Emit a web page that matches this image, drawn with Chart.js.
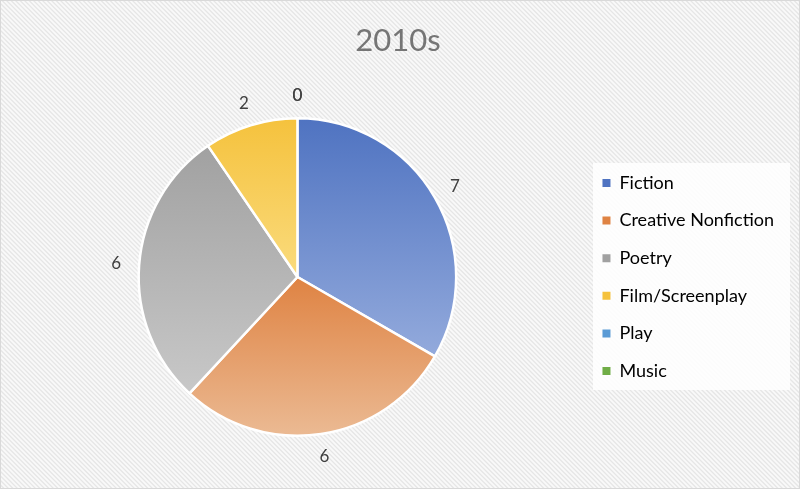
<!DOCTYPE html>
<html>
<head>
<meta charset="utf-8">
<script src="https://cdn.jsdelivr.net/npm/chart.js@4.4.1/dist/chart.umd.min.js"></script>
<style>
  html, body { margin: 0; padding: 0; background: #fff; }
  #wrap { width: 800px; height: 489px; position: relative; }
</style>
</head>
<body>
<div id="wrap"><canvas id="pie"></canvas></div>
<script>
// data
const genres = ["Fiction", "Creative Nonfiction", "Poetry", "Film/Screenplay", "Play", "Music"];
const counts = [7, 6, 6, 2, 0, 0];
const chartTitle = "2010s";

// [top, bottom] of each slice gradient
const sliceColors = [
  ["#4f73c1", "#93aadc"],
  ["#df8343", "#ebba93"],
  ["#a1a1a1", "#c8c8c8"],
  ["#f5c23d", "#fadb7d"],
  ["#5b9bd5", "#9dc3e6"],
  ["#70ad47", "#a9d18e"],
];

// hatched background + white legend panel
const background = {
  id: "background",
  beforeDraw(chart) {
    const { ctx, width, height } = chart;
    ctx.save();
    ctx.fillStyle = "#f9f9f9";
    ctx.fillRect(0, 0, width, height);
    ctx.strokeStyle = "#e6e6e6";
    ctx.lineWidth = 1.3;
    ctx.beginPath();
    for (let k = -height; k < width; k += 4.5) {
      ctx.moveTo(k, 0);
      ctx.lineTo(k + height, height);
    }
    ctx.stroke();
    ctx.strokeStyle = "#d9d9d9";
    ctx.lineWidth = 1;
    ctx.strokeRect(0.5, 0.5, width - 1, height - 1);

    const lg = chart.legend;
    if (lg && lg.legendHitBoxes && lg.legendHitBoxes.length) {
      const boxes = lg.legendHitBoxes;
      const last = boxes[boxes.length - 1];
      const top = boxes[0].top - 11;
      const bot = last.top + last.height + 10;
      ctx.fillStyle = "rgba(255,255,255,0.85)";
      ctx.fillRect(593, top, 197, bot - top);
    }
    ctx.restore();
  },
};

// vertical gradient per slice, sized to the slice's own bounds
const sliceGradients = {
  id: "sliceGradients",
  beforeDatasetsDraw(chart) {
    const { ctx } = chart;
    const meta = chart.getDatasetMeta(0);
    meta.data.forEach((arc, i) => {
      const { x, y, startAngle, endAngle, outerRadius } = arc.getProps(
        ["x", "y", "startAngle", "endAngle", "outerRadius"], true);
      if (endAngle - startAngle <= 0) return;
      let ys = [y, y + outerRadius * Math.sin(startAngle), y + outerRadius * Math.sin(endAngle)];
      for (let a = startAngle; a <= endAngle; a += 0.02) ys.push(y + outerRadius * Math.sin(a));
      const top = Math.min(...ys), bot = Math.max(...ys);
      const g = ctx.createLinearGradient(0, top, 0, bot);
      g.addColorStop(0, sliceColors[i][0]);
      g.addColorStop(1, sliceColors[i][1]);
      arc.options = Object.assign({}, arc.options, { backgroundColor: g });
    });
  },
};

// value labels just outside the pie
const valueLabels = {
  id: "valueLabels",
  afterDatasetsDraw(chart) {
    const { ctx } = chart;
    const meta = chart.getDatasetMeta(0);
    ctx.save();
    ctx.font = "17px Lato, 'Open Sans', sans-serif";
    ctx.fillStyle = "#404040";
    ctx.textAlign = "center";
    ctx.textBaseline = "middle";
    meta.data.forEach((arc, i) => {
      const { x, y, startAngle, endAngle, outerRadius } = arc.getProps(
        ["x", "y", "startAngle", "endAngle", "outerRadius"], true);
      const mid = (startAngle + endAngle) / 2;
      const r = outerRadius + 23;
      ctx.fillText(String(counts[i]), x + r * Math.cos(mid), y + r * Math.sin(mid));
    });
    ctx.restore();
  },
};

new Chart(document.getElementById("pie"), {
  type: "pie",
  data: {
    labels: genres,
    datasets: [{
      data: counts,
      backgroundColor: sliceColors.map(c => c[0]),
      borderColor: "#ffffff",
      borderWidth: 2.5,
    }],
  },
  options: {
    responsive: true,
    maintainAspectRatio: false,
    animation: false,
    layout: { padding: { left: 12, right: 16, bottom: 52 } },
    plugins: {
      title: {
        display: true,
        text: chartTitle,
        color: "#757575",
        font: { size: 31, family: "Lato, 'Open Sans', sans-serif", weight: "normal", lineHeight: 1.2 },
        padding: { top: 22.5, bottom: 57.3 },
      },
      legend: {
        position: "right",
        fullSize: false,
        labels: {
          color: "#404040",
          boxWidth: 8,
          boxHeight: 8,
          padding: 19.6,
          font: { size: 18, family: "Lato, 'Open Sans', sans-serif" },
          generateLabels(chart) {
            return genres.map((g, i) => ({
              text: g,
              fillStyle: sliceColors[i][0],
              strokeStyle: sliceColors[i][0],
              lineWidth: 0,
              hidden: false,
              index: i,
            }));
          },
        },
      },
      tooltip: { enabled: false },
    },
  },
  plugins: [background, sliceGradients, valueLabels],
});
</script>
</body>
</html>
